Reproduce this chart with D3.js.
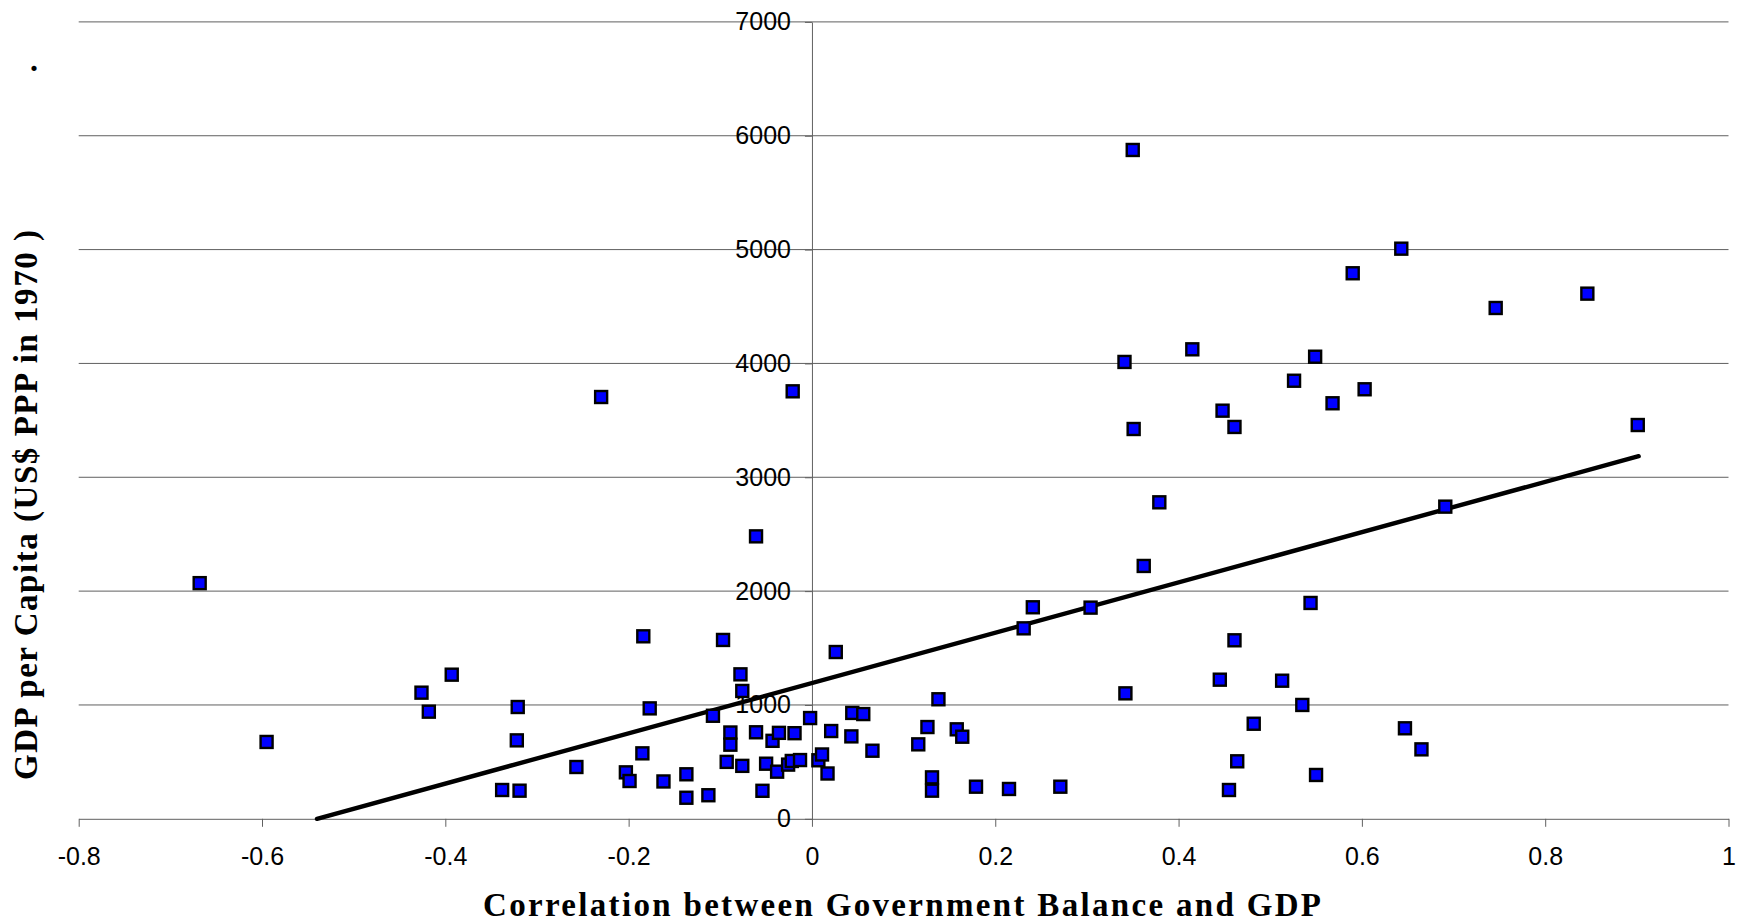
<!DOCTYPE html>
<html>
<head>
<meta charset="utf-8">
<script src="https://cdn.jsdelivr.net/npm/d3@7"></script>
<style>
  html, body { margin: 0; padding: 0; background: #ffffff; }
  svg { display: block; }
</style>
</head>
<body>
<svg id="chart" width="1742" height="922"></svg>
<script>
// Correlation between government balance and GDP (x) vs. GDP per capita in 1970 (y)
const correlation = [
  -0.668, -0.595, -0.426, -0.418, -0.393, -0.321, -0.322, -0.338, -0.319, -0.257,
  -0.230, -0.203, -0.199, -0.185, -0.184, -0.177, -0.162, -0.137, -0.137, -0.113,
  -0.108, -0.097, -0.093, -0.089, -0.089, -0.078, -0.076, -0.076, -0.061, -0.061,
  -0.054, -0.050, -0.043, -0.038, -0.036, -0.026, -0.022, -0.021, -0.019, -0.013,
  -0.002, 0.007, 0.011, 0.017, 0.021, 0.026, 0.043, 0.044, 0.056, 0.066,
  0.116, 0.126, 0.131, 0.131, 0.138, 0.158, 0.164, 0.179, 0.215, 0.231,
  0.241, 0.271, 0.304, 0.341, 0.342, 0.350, 0.351, 0.362, 0.379, 0.415,
  0.445, 0.448, 0.455, 0.461, 0.461, 0.464, 0.482, 0.513, 0.526, 0.535,
  0.544, 0.549, 0.550, 0.568, 0.590, 0.603, 0.643, 0.647, 0.665, 0.691,
  0.746, 0.846, 0.901
];
const gdpPerCapita = [
  2070, 675, 1108, 941, 1266, 982, 689, 253, 247, 455,
  3705, 408, 332, 575, 1603, 970, 328, 391, 185, 207,
  905, 1571, 500, 758, 651, 1269, 1123, 465, 2481, 760,
  246, 484, 685, 414, 755, 476, 508, 3755, 752, 516,
  885, 514, 565, 398, 771, 1465, 724, 930, 920, 598,
  654, 806, 364, 247, 1050, 786, 721, 282, 262, 1673,
  1858, 282, 1855, 4013, 1102, 5875, 3424, 2221, 2780, 4124,
  1222, 3585, 253, 3442, 1568, 505, 835, 1213, 3848, 1000,
  1896, 4059, 385, 3650, 4792, 3773, 5008, 795, 610, 2742,
  4487, 4613, 3459
];

// Linear trend line endpoints
const trendX = [-0.54, 0.902];
const trendY = [0, 3185];

const xTicks = [-0.8, -0.6, -0.4, -0.2, 0, 0.2, 0.4, 0.6, 0.8, 1];
const yTicks = [0, 1000, 2000, 3000, 4000, 5000, 6000, 7000];

const xTitle = "Correlation between Government Balance and GDP";
const yTitle = "GDP per Capita (US$ PPP in 1970 )";

const svg = d3.select("#chart");

const x = d3.scaleLinear().domain([-0.8, 1]).range([78.7, 1728.5]);
const y = d3.scaleLinear().domain([0, 7000]).range([818.8, 21.9]);

const gridColor = "#606060";
const tickFont = "'Liberation Sans', Arial, sans-serif";
const titleFont = "'Liberation Serif', 'Times New Roman', serif";

// Horizontal gridlines
svg.append("g")
  .selectAll("line")
  .data(yTicks.filter(d => d > 0))
  .join("line")
  .attr("x1", x(-0.8))
  .attr("x2", x(1))
  .attr("y1", d => y(d))
  .attr("y2", d => y(d))
  .attr("stroke", gridColor)
  .attr("stroke-width", 1);

// X axis along y = 0
const xAxis = d3.axisBottom(x)
  .tickValues(xTicks)
  .tickSize(8)
  .tickSizeOuter(0)
  .tickPadding(20)
  .tickFormat(d => String(Math.round(d * 10) / 10));

const gx = svg.append("g")
  .attr("transform", `translate(0,${y(0)})`)
  .call(xAxis);
gx.select(".domain").attr("stroke", gridColor).attr("stroke-width", 1);
gx.selectAll(".tick line").attr("stroke", gridColor).attr("stroke-width", 1);
gx.selectAll(".tick text")
  .attr("fill", "#000")
  .style("font-family", tickFont)
  .style("font-size", "25px");

// Y axis crossing at x = 0
const yAxis = d3.axisLeft(y)
  .tickValues(yTicks)
  .tickSize(7)
  .tickSizeOuter(0)
  .tickPadding(14)
  .tickFormat(d => String(d));

const gy = svg.append("g")
  .attr("transform", `translate(${x(0)},0)`)
  .call(yAxis);
gy.select(".domain").attr("stroke", gridColor).attr("stroke-width", 1);
gy.selectAll(".tick line").attr("stroke", gridColor).attr("stroke-width", 1);
gy.selectAll(".tick text")
  .attr("fill", "#000")
  .style("font-family", tickFont)
  .style("font-size", "25px");

// Trend line
svg.append("line")
  .attr("x1", x(trendX[0]))
  .attr("y1", y(trendY[0]))
  .attr("x2", x(trendX[1]))
  .attr("y2", y(trendY[1]))
  .attr("stroke", "#000")
  .attr("stroke-width", 4.4)
  .attr("stroke-linecap", "round");

// Square markers
const points = correlation.map((c, i) => ({ c, g: gdpPerCapita[i] }));
const side = 12;
svg.append("g")
  .selectAll("rect")
  .data(points)
  .join("rect")
  .attr("x", d => x(d.c) - side / 2)
  .attr("y", d => y(d.g) - side / 2)
  .attr("width", side)
  .attr("height", side)
  .attr("fill", "#0000ff")
  .attr("stroke", "#000")
  .attr("stroke-width", 2.4);

// Axis titles
svg.append("text")
  .attr("x", 902)
  .attr("y", 916)
  .attr("text-anchor", "middle")
  .attr("textLength", 838)
  .attr("lengthAdjust", "spacing")
  .style("font-family", titleFont)
  .style("font-weight", "bold")
  .style("font-size", "33px")
  .text(xTitle);

svg.append("text")
  .attr("transform", "translate(37,505) rotate(-90)")
  .attr("text-anchor", "middle")
  .attr("textLength", 550)
  .attr("lengthAdjust", "spacing")
  .style("font-family", titleFont)
  .style("font-weight", "bold")
  .style("font-size", "33px")
  .text(yTitle);

svg.append("text")
  .attr("x", 30)
  .attr("y", 71)
  .style("font-family", titleFont)
  .style("font-weight", "bold")
  .style("font-size", "32px")
  .text(".");
</script>
</body>
</html>
